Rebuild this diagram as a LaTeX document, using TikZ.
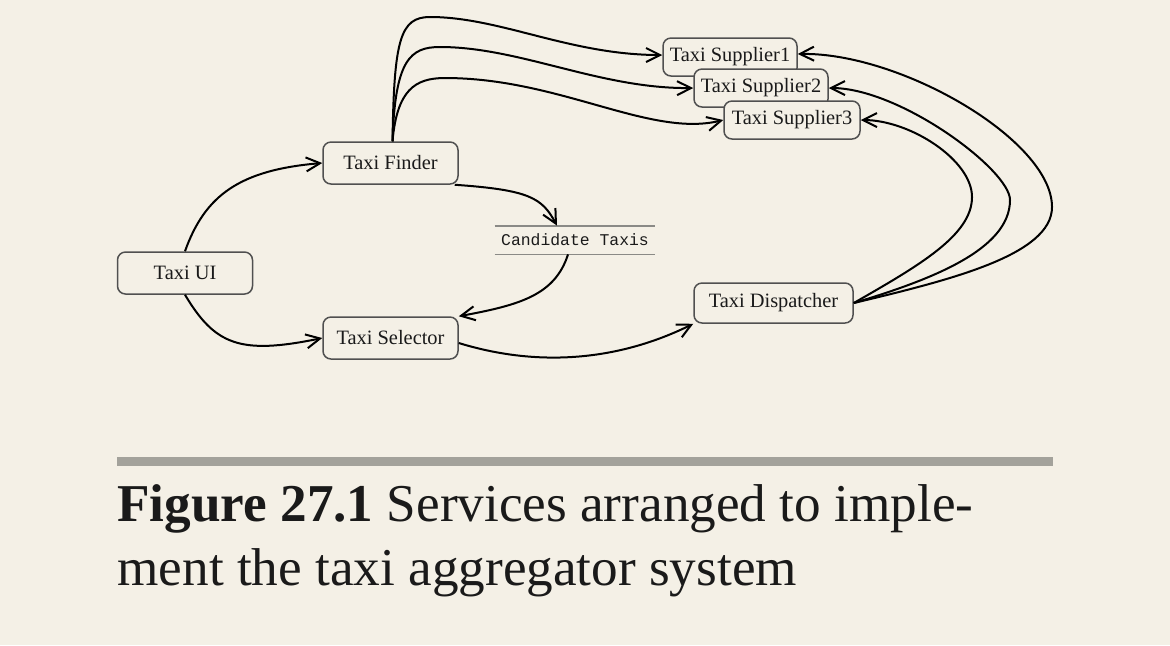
\documentclass[tikz,border=0pt]{standalone}
\usepackage{fontspec}
\setmainfont{Liberation Serif}
\setmonofont{Liberation Mono}
\usetikzlibrary{arrows.meta}
\definecolor{bg}{HTML}{F4F0E6}
\definecolor{boxc}{HTML}{505050}
\definecolor{txt}{HTML}{1A1A1A}
\definecolor{barc}{HTML}{A3A29B}
\definecolor{rulec}{HTML}{8A8A86}
\begin{document}
\begin{tikzpicture}[x=0.5pt,y=-0.5pt,
  box/.style={draw=boxc, line width=0.75pt, rounded corners=4pt, fill=bg,
    minimum width=67.5pt, minimum height=21pt, inner sep=0pt, text=txt,
    font=\fontsize{10.2}{12}\selectfont},
  arr/.style={draw=black, line width=1pt, -{Straight Barb[length=7pt,width=7pt]}},
  rulel/.style={draw=rulec, line width=0.9pt}]
\useasboundingbox[fill=bg] (0,0) rectangle (1170,645);

\node[box] (UI) at (185,273) {Taxi UI};
\node[box] (F) at (390.5,163) {Taxi Finder};
\node[box] (S) at (390.5,338) {Taxi Selector};
\node[box, minimum width=79.5pt, minimum height=20pt] (D) at (773.5,303) {Taxi Dispatcher};
\node[box, minimum width=67pt, minimum height=19pt] (S1) at (730,57) {Taxi Supplier1};
\node[box, minimum width=67pt, minimum height=19pt] (S2) at (761,88) {Taxi Supplier2};
\node[box, minimum width=68pt, minimum height=19pt] (S3) at (792,120) {Taxi Supplier3};
\node[minimum width=80pt, minimum height=14pt, inner sep=0pt, text=txt,
  font=\ttfamily\fontsize{8.2}{10}\selectfont] (CT) at (575,240) {Candidate Taxis};
\draw[rulel] (CT.north west) -- (CT.north east);
\draw[rulel] (CT.south west) -- (CT.south east);

% left part
\draw[arr] (UI.north) .. controls (205,195) and (240,170) .. (F.west);
\draw[arr] (UI.south) .. controls (215,345) and (240,355) .. (S.west);
\draw[arr] ([xshift=-2pt]F.south east) .. controls (530,190) and (542,198) .. ([xshift=-9pt]CT.north);
\draw[arr] ([xshift=-3.5pt]CT.south) .. controls (555,295) and (520,305) .. (S.north east);
\draw[arr] ([yshift=-2.5pt]S.east) .. controls (540,368) and (620,360) .. (D.south west);

% finder to suppliers
\coordinate (FS) at ([xshift=1pt]F.north);
\draw[arr] (FS) .. controls (394,40) and (400,17) .. (430,17)
  .. controls (500,17) and (570,55) .. ([yshift=1pt]S1.west);
\draw[arr] (FS) .. controls (395,60) and (410,47) .. (440,47)
  .. controls (520,47) and (600,89) .. (S2.west);
\draw[arr] (FS) .. controls (397,90) and (415,78) .. (445,78)
  .. controls (560,78) and (650,138) .. (S3.west);

% dispatcher to suppliers
\coordinate (DS) at (D.east);
\draw[arr] (DS) .. controls (920,265) and (972,235) .. (972,197)
  .. controls (972,160) and (910,120) .. (S3.east);
\draw[arr] (DS) .. controls (930,280) and (1010,250) .. (1010,200)
  .. controls (1010,170) and (900,88) .. (S2.east);
\draw[arr] (DS) .. controls (950,280) and (1052,255) .. (1052,207)
  .. controls (1052,140) and (900,52) .. ([yshift=1.5pt]S1.east);

% caption
\fill[barc] (117,457) rectangle (1053,466);
\node[anchor=base west, inner sep=0pt, text=txt, font=\fontsize{26.6}{32}\selectfont] (cap1) at (117,521) {\textbf{Figure 27.1} Services arranged to imple-};
\node[anchor=base west, inner sep=0pt, text=txt, font=\fontsize{26.6}{32}\selectfont] (cap2) at (117,585) {ment the taxi aggregator system};
\end{tikzpicture}
\end{document}
